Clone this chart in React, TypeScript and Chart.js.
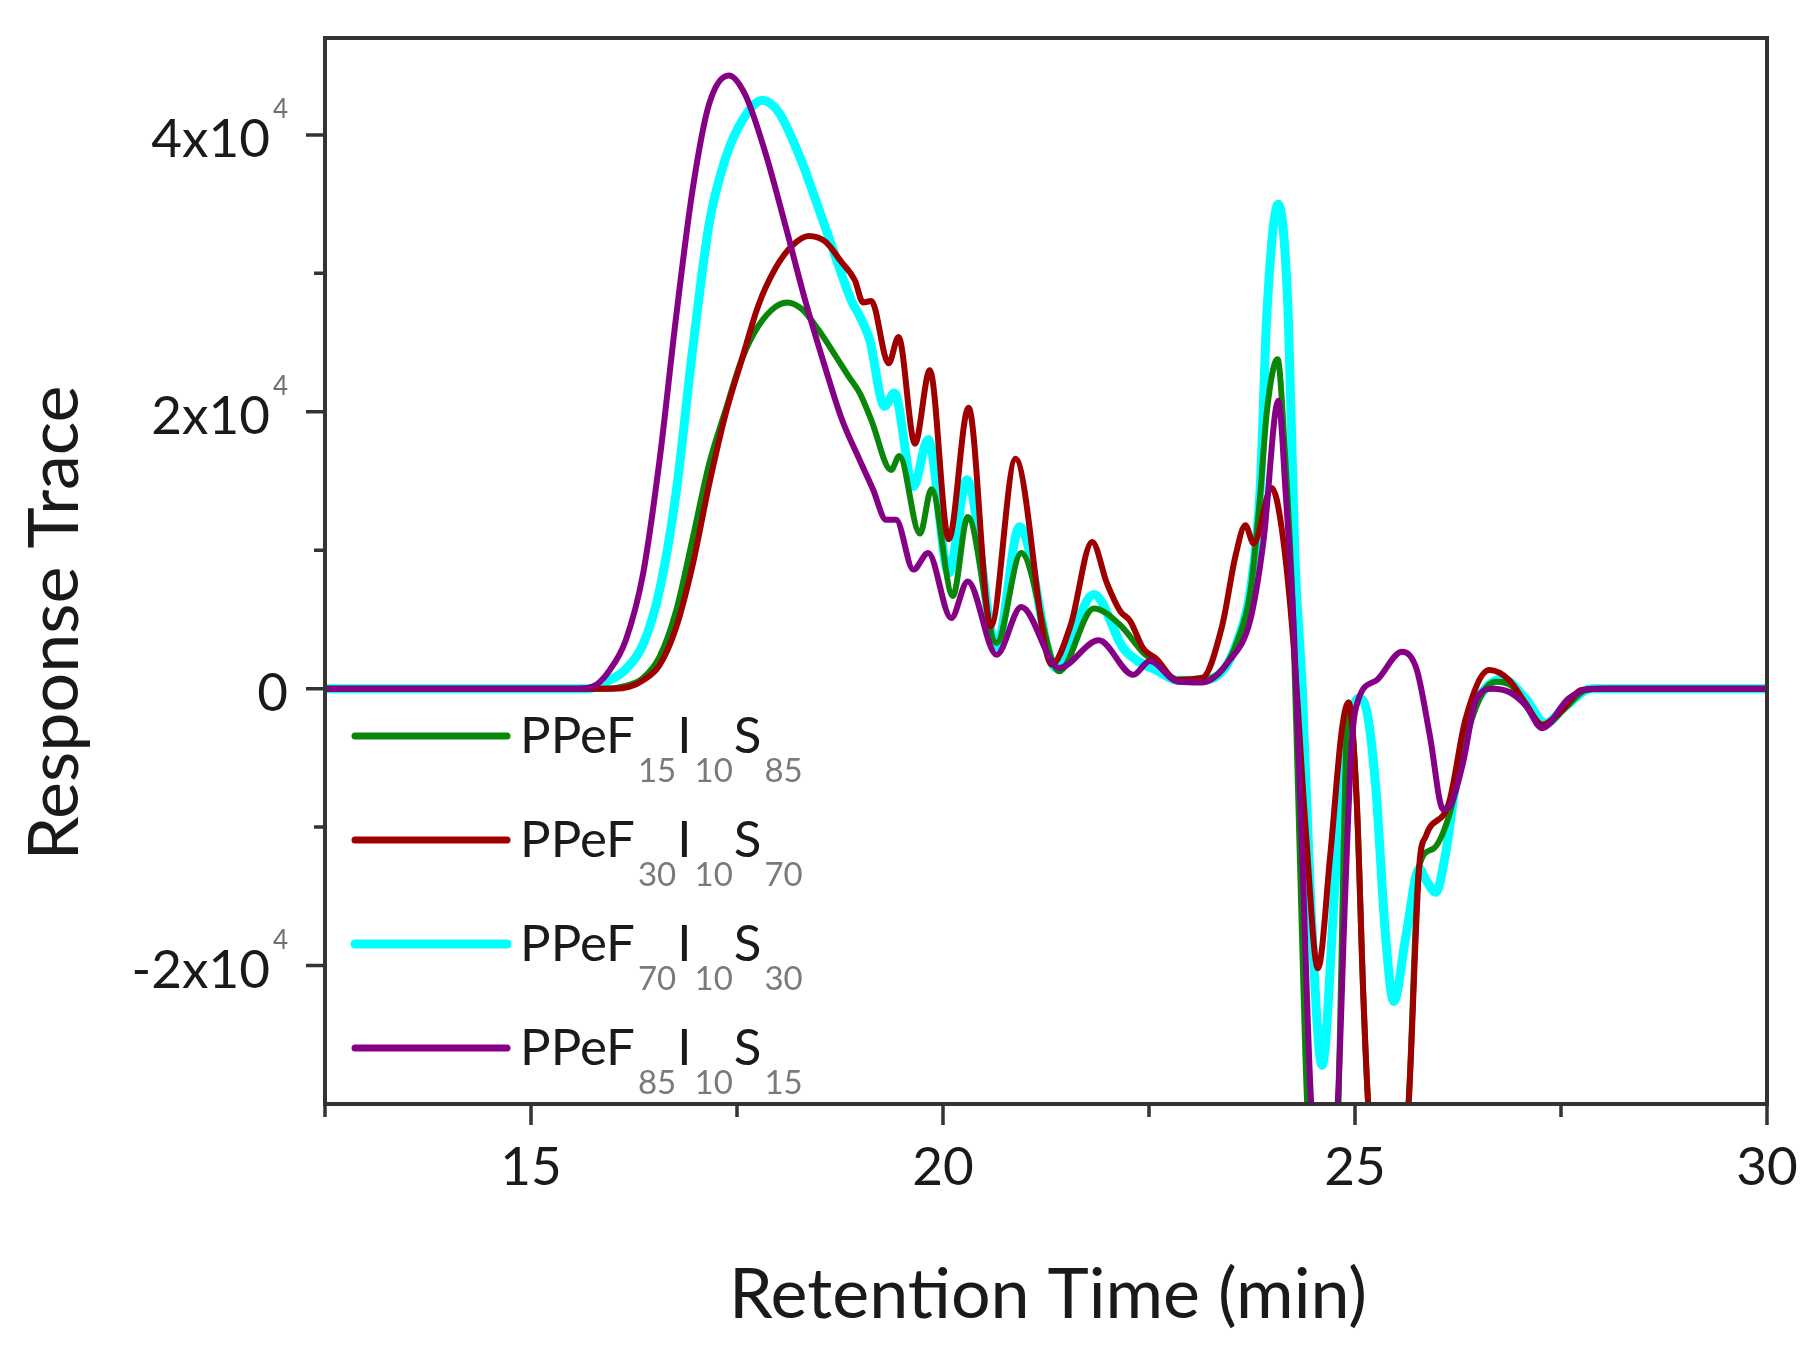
import React, { useEffect, useRef } from "react";
import { Chart, registerables } from "chart.js";

Chart.register(...registerables);

const FONT = "Lato, 'Open Sans', sans-serif";

const X_MIN = 12.5;
const X_MAX = 30;
const Y_MIN = -30000;
const Y_MAX = 47000;

const xMajorTicks = [15, 20, 25, 30];
const xMinorTicks = [12.5, 17.5, 22.5, 27.5];
const yMajorTicks = [-20000, 0, 20000, 40000];
const yMinorTicks = [-10000, 10000, 30000];
const yTickLabels = ["-2x10", "0", "2x10", "4x10"];
const yTickExponents = ["4", "", "4", "4"];

const xTitle = "Retention Time (min)";
const yTitle = "Response Trace";

// PPeF15I10S85
const f15Time = [
  12.5, 15.9, 16.15, 16.36, 16.56, 16.76, 16.96, 17.16, 17.36, 17.56, 17.76, 17.97, 18.11, 18.29, 18.49,
  18.69, 18.85, 18.99, 19.13, 19.37, 19.47, 19.72, 19.86, 20.12, 20.3, 20.65, 20.95, 21.41, 21.83, 22.15,
  22.43, 22.6, 22.85, 23.15, 23.41, 23.57, 23.73, 23.85, 23.93, 24.06, 24.15, 24.25, 24.33, 24.42, 24.6,
  24.8, 24.86, 24.92, 25.02, 25.1, 25.16, 25.4, 25.65, 25.78, 25.94, 26.14, 26.38, 26.55, 26.71, 26.9,
  27.07, 27.29, 27.55, 27.8, 28.0, 30,
];
const f15Trace = [
  0, 0, 200, 770, 2300, 5600, 10800, 16200, 20100, 23800, 26200, 27600, 27900, 27400, 25900,
  24100, 22600, 21350, 19400, 15800, 16800, 11200, 14400, 6700, 12400, 3300, 9800, 1250, 5800, 4600,
  2600, 1800, 600, 600, 1500, 3400, 7000, 14000, 20000, 23800, 17000, 5000, -12000, -30000, -42000,
  -30000, -12000, -1000, -8000, -22000, -30000, -45000, -30000, -12800, -11600, -9200, -2950, -300, 500, 200,
  -1200, -2700, -1400, -100, 0, 0,
];

// PPeF30I10S70
const f30Time = [
  12.5, 16.0, 16.2, 16.36, 16.56, 16.76, 16.96, 17.16, 17.36, 17.56, 17.76, 17.97, 18.17, 18.37, 18.57,
  18.77, 18.93, 19.03, 19.13, 19.34, 19.46, 19.66, 19.84, 20.07, 20.31, 20.58, 20.88, 21.32, 21.55, 21.81,
  21.99, 22.15, 22.27, 22.43, 22.59, 22.83, 23.15, 23.39, 23.55, 23.67, 23.77, 23.99, 24.11, 24.25, 24.4,
  24.55, 24.7, 24.84, 24.92, 25.02, 25.1, 25.16, 25.4, 25.65, 25.78, 25.86, 26.14, 26.34, 26.63, 26.87,
  27.07, 27.27, 27.51, 27.75, 28.07, 30,
];
const f30Trace = [
  0, 0, 150, 600, 1700, 4400, 8900, 14700, 19800, 23800, 27700, 30400, 32000, 32700, 32300,
  30800, 29500, 27900, 28000, 23500, 25400, 17700, 23000, 10800, 20300, 4500, 16600, 1750, 4600, 10600,
  7600, 5600, 4900, 2900, 2150, 650, 800, 4600, 9600, 11800, 10500, 14500, 11600, 3500, -10000,
  -20200, -12000, -3000, -1000, -8000, -22000, -30000, -45000, -30000, -12800, -10650, -8250, -2230, 1340, 620,
  -1050, -2610, -1570, -100, 0, 0,
];

// PPeF70I10S30
const f70Time = [
  12.5, 15.7, 15.95, 16.15, 16.36, 16.56, 16.76, 16.96, 17.16, 17.36, 17.56, 17.81, 18.01, 18.25, 18.49,
  18.69, 18.89, 18.99, 19.11, 19.29, 19.41, 19.64, 19.82, 20.07, 20.29, 20.65, 20.93, 21.37, 21.83, 22.19,
  22.39, 22.6, 22.85, 23.15, 23.41, 23.57, 23.73, 23.85, 23.93, 24.07, 24.19, 24.27, 24.36, 24.46, 24.6,
  24.77, 24.9, 25.04, 25.13, 25.25, 25.37, 25.47, 25.62, 25.78, 25.86, 25.98, 26.1, 26.22, 26.38, 26.58,
  26.79, 27.07, 27.31, 27.55, 27.87, 30,
];
const f70Trace = [
  0, 0, 600, 1400, 3200, 7100, 14100, 24400, 33500, 38300, 41000, 42500, 41600, 38600, 34700,
  31300, 28000, 26900, 25200, 20400, 21350, 14600, 18000, 8350, 15100, 3050, 11700, 1500, 6800, 2900,
  1900, 1300, 600, 600, 1400, 3400, 7100, 14500, 27000, 35000, 27000, 9600, 0, -15000, -27200,
  -13000, -4000, -700, -1300, -7000, -17800, -22600, -17800, -13000, -13800, -14700, -11900, -7000, -2250, 0,
  700, -700, -2500, -1300, 0, 0,
];

// PPeF85I10S15
const f85Time = [
  12.5, 15.55, 15.75, 15.95, 16.15, 16.36, 16.56, 16.76, 16.96, 17.16, 17.4, 17.6, 17.85, 18.09, 18.33,
  18.57, 18.77, 18.99, 19.15, 19.31, 19.43, 19.64, 19.82, 20.1, 20.3, 20.65, 20.95, 21.41, 21.89, 22.31,
  22.51, 22.85, 23.15, 23.47, 23.73, 23.89, 24.07, 24.16, 24.26, 24.36, 24.46, 24.62, 24.79, 24.88, 24.96,
  25.04, 25.27, 25.57, 25.75, 25.91, 26.07, 26.15, 26.31, 26.47, 26.67, 26.87, 27.07, 27.27, 27.59, 27.87,
  30,
];
const f85Trace = [
  0, 0, 150, 1300, 3500, 8300, 16500, 26800, 36000, 42200, 44300, 42900, 38600, 33400, 28000,
  23200, 19500, 16500, 14400, 12200, 12200, 8600, 9800, 5100, 7750, 2450, 5900, 1500, 3500, 1000,
  2000, 500, 450, 2000, 5000, 10700, 20800, 14000, 4000, -12000, -29000, -40000, -30000, -15000, -4000,
  -800, 650, 2660, 1360, -3450, -8700, -8500, -5370, -800, 0, -240, -1200, -2850, -720, 0,
  0,
];

const seriesColors = ["#0a870a", "#9e0000", "#00ffff", "#850085"];
const seriesWidths = [6, 6, 9, 6];
const legendSubs = [
  ["15", "10", "85"],
  ["30", "10", "70"],
  ["70", "10", "30"],
  ["85", "10", "15"],
];

function toPoints(t: number[], v: number[]) {
  return t.map((x, i) => ({ x, y: v[i] }));
}

const decorations = {
  id: "decorations",
  afterDraw(chart: Chart) {
    const { ctx, chartArea: a } = chart;
    const xs = chart.scales.x;
    const ys = chart.scales.y;
    ctx.save();

    // frame
    ctx.strokeStyle = "#333333";
    ctx.lineWidth = 4;
    ctx.strokeRect(a.left, a.top, a.right - a.left, a.bottom - a.top);

    // tick marks
    ctx.lineWidth = 3.5;
    ctx.beginPath();
    xMajorTicks.forEach((v) => {
      const px = xs.getPixelForValue(v);
      ctx.moveTo(px, a.bottom);
      ctx.lineTo(px, a.bottom + 21);
    });
    xMinorTicks.forEach((v) => {
      const px = xs.getPixelForValue(v);
      ctx.moveTo(px, a.bottom);
      ctx.lineTo(px, a.bottom + 13);
    });
    yMajorTicks.forEach((v) => {
      const py = ys.getPixelForValue(v);
      ctx.moveTo(a.left, py);
      ctx.lineTo(a.left - 19, py);
    });
    yMinorTicks.forEach((v) => {
      const py = ys.getPixelForValue(v);
      ctx.moveTo(a.left, py);
      ctx.lineTo(a.left - 11, py);
    });
    ctx.stroke();

    // x tick labels
    ctx.fillStyle = "#1a1a1a";
    ctx.font = `53px ${FONT}`;
    ctx.textAlign = "center";
    ctx.textBaseline = "alphabetic";
    xMajorTicks.forEach((v) => {
      ctx.fillText(String(v), xs.getPixelForValue(v), a.bottom + 81);
    });

    // y tick labels with exponent
    ctx.textAlign = "left";
    yMajorTicks.forEach((v, i) => {
      const py = ys.getPixelForValue(v);
      const base = yTickLabels[i];
      const exp = yTickExponents[i];
      ctx.font = `26px ${FONT}`;
      const ew = exp ? ctx.measureText(exp).width + 3 : 0;
      ctx.font = `53px ${FONT}`;
      const bw = ctx.measureText(base).width;
      const right = a.left - 37;
      const x0 = right - ew - bw;
      ctx.fillStyle = "#1a1a1a";
      ctx.fillText(base, x0, py + 22);
      if (exp) {
        ctx.font = `26px ${FONT}`;
        ctx.fillStyle = "#707070";
        ctx.fillText(exp, x0 + bw + 3, py - 17);
      }
    });

    // axis titles
    ctx.fillStyle = "#1a1a1a";
    ctx.font = `70px ${FONT}`;
    ctx.textAlign = "center";
    ctx.fillText(xTitle, (a.left + a.right) / 2 + 2, a.bottom + 214);
    ctx.save();
    ctx.translate(78, 623);
    ctx.rotate(-Math.PI / 2);
    ctx.fillText(yTitle, 0, 0);
    ctx.restore();

    // legend
    ctx.textAlign = "left";
    chart.data.datasets.forEach((ds, i) => {
      const ly = 736 + i * 104;
      ctx.strokeStyle = seriesColors[i];
      ctx.lineWidth = i === 2 ? 9 : 7;
      ctx.lineCap = "round";
      ctx.beginPath();
      ctx.moveTo(355, ly);
      ctx.lineTo(507, ly);
      ctx.stroke();
      let x = 520;
      const parts = ["PPeF", legendSubs[i][0], "I", legendSubs[i][1], "S", legendSubs[i][2]];
      parts.forEach((p, k) => {
        const sub = k % 2 === 1;
        ctx.font = sub ? `33px ${FONT}` : `51px ${FONT}`;
        ctx.fillStyle = sub ? "#7a7a7a" : "#1a1a1a";
        ctx.fillText(p, x, ly + (sub ? 46 : 17));
        x += ctx.measureText(p).width + (sub ? 1 : 3);
      });
    });

    ctx.restore();
  },
};

export default function App() {
  const canvasRef = useRef<HTMLCanvasElement>(null);

  useEffect(() => {
    if (!canvasRef.current) return;
    const labels = ["PPeF15I10S85", "PPeF30I10S70", "PPeF70I10S30", "PPeF85I10S15"];
    const sets = [
      toPoints(f15Time, f15Trace),
      toPoints(f30Time, f30Trace),
      toPoints(f70Time, f70Trace),
      toPoints(f85Time, f85Trace),
    ];
    const drawOrder = [2, 1, 3, 0];

    const chart = new Chart(canvasRef.current, {
      type: "line",
      data: {
        datasets: sets.map((data, i) => ({
          label: labels[i],
          data,
          borderColor: seriesColors[i],
          borderWidth: seriesWidths[i],
          pointRadius: 0,
          fill: false,
          cubicInterpolationMode: "monotone" as const,
          order: drawOrder[i],
        })),
      },
      options: {
        animation: false,
        responsive: false,
        devicePixelRatio: 1,
        layout: { padding: { left: 325, right: 53, top: 38, bottom: 254 } },
        plugins: { legend: { display: false }, tooltip: { enabled: false } },
        scales: {
          x: { type: "linear", min: X_MIN, max: X_MAX, display: false },
          y: { type: "linear", min: Y_MIN, max: Y_MAX, display: false },
        },
      },
      plugins: [decorations],
    });

    return () => chart.destroy();
  }, []);

  return (
    <div style={{ position: "absolute", left: 0, top: 0, width: 1820, height: 1358, background: "#fff" }}>
      <canvas ref={canvasRef} width={1820} height={1358} />
    </div>
  );
}
